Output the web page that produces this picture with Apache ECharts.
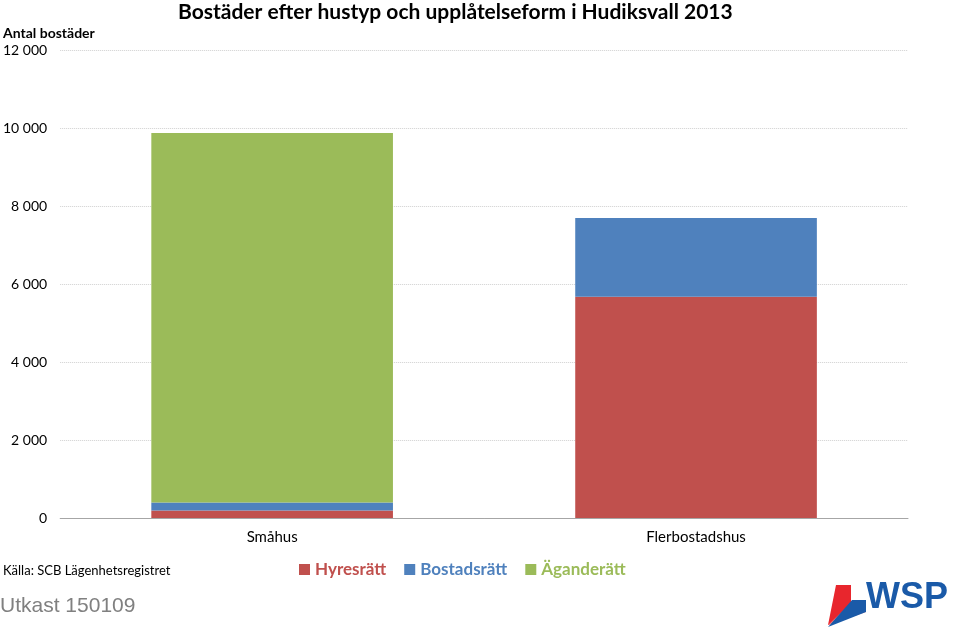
<!DOCTYPE html>
<html><head><meta charset="utf-8">
<script src="https://cdn.jsdelivr.net/npm/echarts@6/dist/echarts.min.js"></script>
<style>html,body{margin:0;padding:0;background:#fff}#c{width:960px;height:631px}</style>
</head><body><div id="c"></div>
<script>
const categories = ['Småhus', 'Flerbostadshus'];
const seriesNames = ['Hyresrätt', 'Bostadsrätt', 'Äganderätt'];
const hyresratt = [195, 5670];
const bostadsratt = [200, 2020];
const aganderatt = [9480, 0];
const colors = ['#C0504D', '#4F81BD', '#9BBB59'];
const values = [hyresratt, bostadsratt, aganderatt];

const chart = echarts.init(document.getElementById('c'));
const font = 'Lato, "Open Sans", sans-serif';
chart.setOption({
  animation: false,
  textStyle: {fontFamily: font},
  title: [
    {text: 'Bostäder efter hustyp och upplåtelseform i Hudiksvall 2013', left: 178, top: 2, padding: 0,
     textStyle: {fontSize: 21, fontWeight: 'bold', color: '#000', fontFamily: font}},
    {text: 'Antal bostäder', left: 3, top: 26, padding: 0, textStyle: {fontSize: 14, fontWeight: 'bold', color: '#000', fontFamily: font}},
    {text: 'Källa: SCB Lägenhetsregistret', left: 3, top: 564, padding: 0, textStyle: {fontSize: 13, fontWeight: 'normal', color: '#000', fontFamily: font}},
    {text: 'Utkast 150109', left: 0, top: 596, padding: 0, textStyle: {fontSize: 21, fontWeight: 'normal', color: '#808080', fontFamily: 'Liberation Sans, Arial, sans-serif'}}
  ],
  grid: {left: 58, right: 52, top: 50, bottom: 113, containLabel: false},
  legend: {
    left: 294, top: 556, itemWidth: 11, itemHeight: 11, itemGap: 18,
    icon: 'rect',
    data: seriesNames.map((n, i) => ({name: n, textStyle: {color: colors[i]}})),
    textStyle: {fontSize: 17, fontWeight: 'bold', fontFamily: font}
  },
  xAxis: {
    type: 'category', data: categories,
    axisLine: {lineStyle: {color: '#a6a6a6'}},
    axisTick: {show: false},
    axisLabel: {fontSize: 15, color: '#000', margin: 12, fontFamily: font}
  },
  yAxis: {
    type: 'value', min: 0, max: 12000, interval: 2000,
    axisLine: {show: false}, axisTick: {show: false},
    axisLabel: {fontSize: 14, color: '#000', margin: 13, fontFamily: font,
      formatter: v => v === 0 ? '0' : String(v).replace(/\B(?=(\d{3})+(?!\d))/g, ' ')},
    splitLine: {lineStyle: {color: '#d0d0d0', type: [1, 1]}}
  },
  series: seriesNames.map((n, i) => ({
    name: n, type: 'bar', stack: 'total', barWidth: '57%',
    itemStyle: {color: colors[i]},
    data: values[i]
  })),
  graphic: [
    {type: 'polygon', shape: {points: [[836,585],[851,585],[851,602],[864,602],[864,612],[828,625]]}, style: {fill: '#e8262d'}},
    {type: 'polygon', shape: {points: [[828,625],[848,606],[866,606],[866,612]]}, style: {fill: '#f08080'}},
    {type: 'polygon', shape: {points: [[852,600],[866,600],[866,612],[828,627]]}, style: {fill: '#1a5aa8'}},
    {type: 'text', left: 866, top: 580, style: {text: 'WSP', fontSize: 36, fontWeight: 'bold', fill: '#1a5aa8', fontFamily: 'Liberation Sans, Arial, sans-serif'}}
  ]
});
</script></body></html>
